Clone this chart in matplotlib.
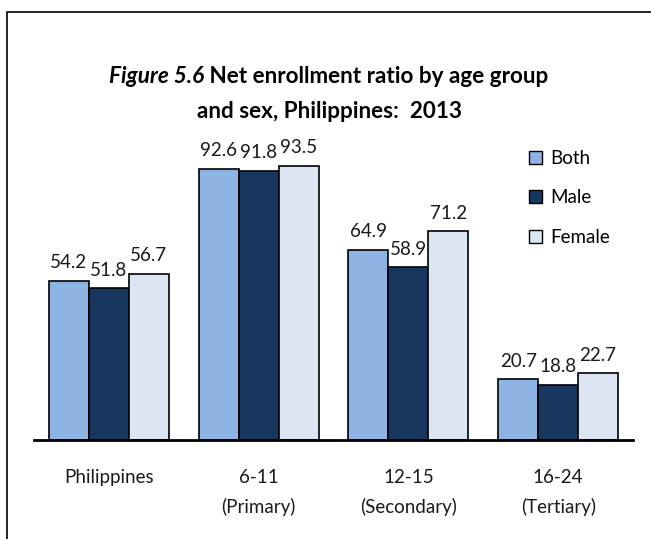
import matplotlib
matplotlib.use("Agg")
import matplotlib.pyplot as plt
from matplotlib.patches import Rectangle, Patch
import numpy as np

categories = ["Philippines", "6-11\n(Primary)", "12-15\n(Secondary)", "16-24\n(Tertiary)"]
series_names = ["Both", "Male", "Female"]
both = [54.2, 92.6, 64.9, 20.7]
male = [51.8, 91.8, 58.9, 18.8]
female = [56.7, 93.5, 71.2, 22.7]
colors = ["#8EB4E3", "#17375E", "#DCE6F2"]

plt.rcParams['font.family'] = ['Lato', 'DejaVu Sans']

W, H = 651, 539
fig = plt.figure(figsize=(W / 100, H / 100), dpi=100)

# frame around chart
fig.patches.append(Rectangle((7 / W, -0.05), 1.1, 1 - 12 / H + 0.05, transform=fig.transFigure,
                             fill=False, edgecolor="black", linewidth=1.2))

ax_l, ax_r = 34 / W, 633 / W
ax_b, ax_t = 1 - 440 / H, 1 - 147 / H
ax = fig.add_axes([ax_l, ax_b, ax_r - ax_l, ax_t - ax_b])

x = np.arange(len(categories))
bw = 0.8 / 3
for i, (vals, name, c) in enumerate(zip([both, male, female], series_names, colors)):
    pos = x + (i - 1) * bw
    bars = ax.bar(pos, vals, width=bw, color=c, edgecolor="black", linewidth=1.2, label=name, zorder=2)
    for p, v in zip(pos, vals):
        ax.annotate(f"{v:.1f}", (p, v), xytext=(0, 7), textcoords="offset points",
                    ha="center", va="bottom", fontsize=13.5, color="#1a1a1a")

ax.set_xlim(-0.5, len(categories) - 0.5)
ax.set_ylim(0, 100)
for s in ["top", "right", "left"]:
    ax.spines[s].set_visible(False)
ax.spines["bottom"].set_linewidth(2)
ax.set_yticks([])
ax.set_xticks(x)
ax.set_xticklabels(categories, fontsize=13.5, linespacing=1.75, color="#1a1a1a")
ax.tick_params(axis="x", length=0, pad=21)

# legend
handles = [Patch(facecolor=c, edgecolor="black", linewidth=1.0, label=n) for c, n in zip(colors, series_names)]
fig.legend(handles=handles, loc="upper left", bbox_to_anchor=(512 / W, 1 - 133 / H), frameon=False,
           fontsize=13.5, handlelength=0.7, handleheight=0.7, handletextpad=0.45, labelspacing=1.2)

# title
fig.canvas.draw()
r = fig.canvas.get_renderer()
y1 = 1 - 77 / H
t1 = fig.text(0, y1, "Figure 5.6", fontsize=16.2, fontweight="bold", fontstyle="italic", va="center", ha="left")
t2 = fig.text(0, y1, " Net enrollment ratio by age group", fontsize=16.2, fontweight="bold", va="center", ha="left")
w1 = t1.get_window_extent(r).width
w2 = t2.get_window_extent(r).width
start = (329 - (w1 + w2) / 2)
t1.set_x(start / W)
t2.set_x((start + w1) / W)
fig.text(329 / W, 1 - 111 / H, "and sex, Philippines:  2013", fontsize=16.2, fontweight="bold", va="center", ha="center")

fig.savefig("out.png", dpi=100)
